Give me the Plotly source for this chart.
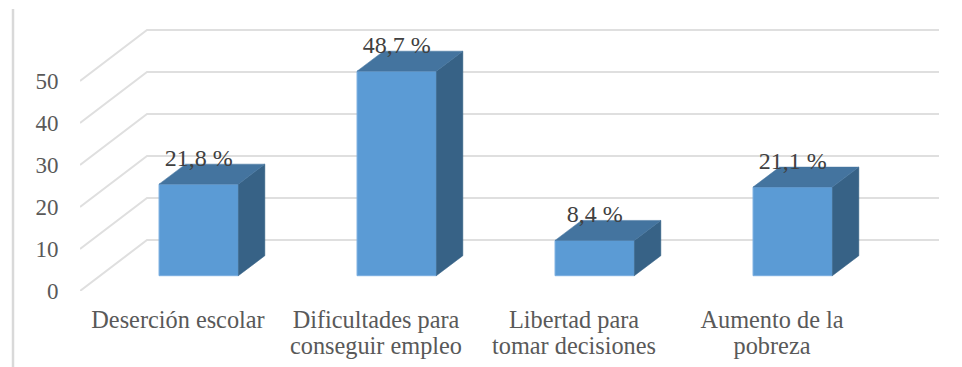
import plotly.graph_objects as go

cat_line1 = ["Deserción escolar", "Dificultades para", "Libertad para", "Aumento de la"]
cat_line2 = ["", "conseguir empleo", "tomar decisiones", "pobreza"]
values = [21.8, 48.7, 8.4, 21.1]
labels = ["21,8 %", "48,7 %", "8,4 %", "21,1 %"]
y_ticks = [0, 10, 20, 30, 40, 50]
cat_pos = [0, 1, 2, 3]

W, H = 962, 367
L, R, T, B = 80, 23, 21, 76
PX_Y = 4.2
PITCH = 198.0
X0_PX = 178.0
xr = [(L - X0_PX) / PITCH, (W - R - X0_PX) / PITCH]
yr = [0, (H - T - B) / PX_Y]

wall_dx, wall_dy = 67 / PITCH, 51 / PX_Y
bar_shift = 20.7 / PITCH
bar_base = 15.3 / PX_Y
bar_w = 79.3 / PITCH
dep_dx, dep_dy = 26.5 / PITCH, 20.0 / PX_Y
label_off = 24.5 / PX_Y

GRID = "#dfdfdf"
FRONT = "#5b9bd5"
SIDE = "#376286"
TOP = "#44749f"
EDGE = "#79ade0"

fig = go.Figure()

for v in y_ticks:
    fig.add_trace(go.Scatter(
        x=[xr[0], xr[0] + wall_dx, xr[1]],
        y=[v, v + wall_dy, v + wall_dy],
        mode="lines", line=dict(color=GRID, width=2),
        hoverinfo="skip", showlegend=False, xaxis="x", yaxis="y"))

# carries the second line of the category labels
fig.add_trace(go.Scatter(x=cat_pos, y=[0, 0, 0, 0], mode="none",
                         hoverinfo="skip", showlegend=False, xaxis="x3", yaxis="y"))

bx = [i + bar_shift for i in range(len(values))]
fig.add_trace(go.Bar(
    x=bx, y=values, base=bar_base, width=bar_w,
    marker=dict(color=FRONT, line=dict(color=EDGE, width=1)),
    showlegend=False, xaxis="x2", yaxis="y2"))

for cx, v in zip(bx, values):
    xl, xr_b = cx - bar_w / 2, cx + bar_w / 2
    yb, yt = bar_base, bar_base + v
    fig.add_trace(go.Scatter(
        x=[xr_b, xr_b + dep_dx, xr_b + dep_dx, xr_b, xr_b],
        y=[yb, yb + dep_dy, yt + dep_dy, yt, yb],
        mode="lines", fill="toself", fillcolor=SIDE,
        line=dict(color=SIDE, width=0.5),
        hoverinfo="skip", showlegend=False, xaxis="x2", yaxis="y2"))
    fig.add_trace(go.Scatter(
        x=[xl, xl + dep_dx, xr_b + dep_dx, xr_b, xl],
        y=[yt, yt + dep_dy, yt + dep_dy, yt, yt],
        mode="lines", fill="toself", fillcolor=TOP,
        line=dict(color=TOP, width=0.5),
        hoverinfo="skip", showlegend=False, xaxis="x2", yaxis="y2"))

fig.add_trace(go.Scatter(
    x=bx, y=[bar_base + v + label_off for v in values],
    mode="text", text=labels, textposition="middle center",
    textfont=dict(family="Liberation Serif", size=24, color="#404040"),
    hoverinfo="skip", showlegend=False, xaxis="x2", yaxis="y2"))

cat_font = dict(size=24.3, color="#595959")
fig.update_layout(
    width=W, height=H,
    margin=dict(l=L, r=R, t=T, b=B, autoexpand=False),
    paper_bgcolor="white", plot_bgcolor="white",
    barmode="overlay",
    font=dict(family="Liberation Serif", color="#595959"),
    xaxis=dict(range=xr, tickmode="array", tickvals=cat_pos, ticktext=cat_line1,
               showgrid=False, zeroline=False, showline=False,
               ticks="outside", ticklen=7, tickcolor="rgba(0,0,0,0)",
               tickfont=cat_font, tickangle=0, fixedrange=True),
    xaxis3=dict(range=xr, overlaying="x", anchor="y", side="bottom",
                tickmode="array", tickvals=cat_pos, ticktext=cat_line2,
                showgrid=False, zeroline=False, showline=False,
                ticks="outside", ticklen=33, tickcolor="rgba(0,0,0,0)",
                tickfont=cat_font, tickangle=0, fixedrange=True),
    yaxis=dict(range=yr, tickmode="array", tickvals=y_ticks,
               showgrid=False, zeroline=False, showline=False,
               ticks="outside", ticklen=16, tickcolor="rgba(0,0,0,0)",
               tickfont=dict(size=23, color="#595959"), fixedrange=True),
    xaxis2=dict(range=xr, overlaying="x", visible=False, fixedrange=True),
    yaxis2=dict(range=yr, overlaying="y", visible=False, fixedrange=True),
    shapes=[dict(type="line", xref="paper", yref="paper",
                 x0=(13 - L) / (W - L - R), x1=(13 - L) / (W - L - R),
                 y0=(H - B - 9) / (H - T - B), y1=(H - B - H) / (H - T - B),
                 line=dict(color="#d9d9d9", width=2.5))],
)

fig.write_html("out.html", config={"displayModeBar": False},
               post_script="document.body.style.margin='0';document.body.style.overflow='hidden';")
